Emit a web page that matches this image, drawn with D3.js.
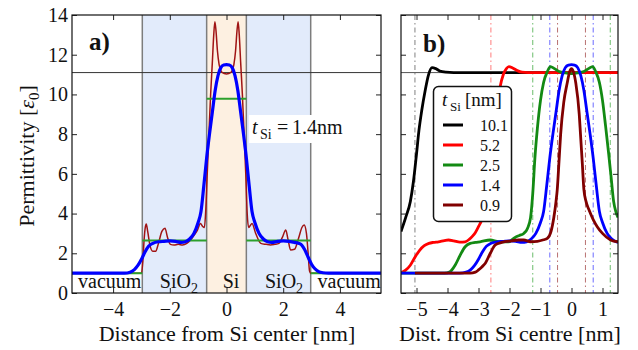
<!DOCTYPE html>
<html>
<head>
<meta charset="utf-8">
<script src="https://cdn.jsdelivr.net/npm/d3@7"></script>
<style>
body{margin:0;background:#fff}
svg{font-family:"Liberation Serif","Times New Roman",serif}
</style>
</head>
<body>
<svg id="chart" width="638" height="350"></svg>
<script>
// ---- panel a: t_Si = 1.4 nm ----
const regionEdges = [-2.97, -0.7, 0.7, 2.97]
const regionLabels = ["vacuum", "SiO", "Si", "SiO", "vacuum"]
const regionLabelX = [-4.12, -1.68, 0.16, 2.03, 4.33]
const stepEdges = [-5.5, -2.97, -0.7, 0.7, 2.97, 5.5]
const stepEps = [1.0, 2.65, 9.78, 2.65, 1.0]
const epsBulkSi = 11.1

const abX = [-5.5, -3.0, -2.95, -2.91, -2.87, -2.83, -2.78, -2.7, -2.6, -2.5, -2.4, -2.28, -2.17, -2.08, -1.98, -1.85, -1.7, -1.55, -1.4, -1.25, -1.12, -1.03, -0.92, -0.84, -0.78, -0.73, -0.68, -0.62, -0.56, -0.5, -0.45, -0.41, -0.37, -0.32, -0.26, -0.18, -0.08, 0,
  0.08, 0.18, 0.26, 0.32, 0.37, 0.41, 0.45, 0.5, 0.56, 0.62, 0.68, 0.73, 0.78, 0.84, 0.9, 1.03, 1.21, 1.4, 1.55, 1.7, 1.85, 1.97, 2.09, 2.17, 2.26, 2.4, 2.55, 2.66, 2.74, 2.82, 2.88, 2.93, 2.97, 5.5]
const abY = [1.0, 1.0, 1.6, 2.6, 3.25, 3.47, 3.1, 2.4, 2.1, 2.1, 2.5, 3.1, 3.26, 2.8, 2.45, 2.42, 2.45, 2.42, 2.5, 2.7, 2.95, 3.15, 3.5, 3.35, 3.3, 4.2, 6.0, 8.0, 10.0, 11.6, 13.0, 13.66, 13.2, 12.2, 11.5, 11.15, 11.05, 11.03,
  11.05, 11.15, 11.5, 12.2, 13.2, 13.66, 13.0, 11.6, 10.0, 8.0, 6.0, 4.0, 3.3, 3.4, 3.5, 3.0, 2.5, 2.45, 2.42, 2.45, 2.5, 2.8, 3.17, 2.7, 2.17, 2.2, 2.8, 3.3, 3.42, 3.0, 2.0, 1.1, 1.0, 1.0]

// smoothed model, t_Si = 1.4 nm (also used in panel b)
const blueX = [-5.5, -3.6, -3.4, -3.25, -3.12, -3.0, -2.88, -2.75, -2.6, -2.4, -2.2, -2.0, -1.8, -1.6, -1.45, -1.3, -1.15, -1.0, -0.9, -0.8, -0.7, -0.6, -0.5, -0.4, -0.3, -0.2, -0.1, 0,
  0.1, 0.2, 0.3, 0.4, 0.5, 0.6, 0.7, 0.8, 0.9, 1.0, 1.15, 1.3, 1.45, 1.6, 1.8, 2.0, 2.2, 2.4, 2.6, 2.75, 2.88, 3.0, 3.12, 3.25, 3.4, 3.6, 5.5]
const blueY = [1.0, 1.0, 1.05, 1.18, 1.4, 1.7, 2.05, 2.35, 2.5, 2.58, 2.6, 2.62, 2.6, 2.55, 2.58, 2.72, 3.0, 3.55, 4.1, 5.4, 6.8, 8.0, 9.1, 10.2, 10.95, 11.35, 11.48, 11.5,
  11.48, 11.35, 10.95, 10.2, 9.1, 8.0, 6.8, 5.4, 4.1, 3.55, 3.0, 2.72, 2.58, 2.55, 2.6, 2.62, 2.6, 2.55, 2.47, 2.2, 1.8, 1.45, 1.22, 1.08, 1.02, 1.0, 1.0]

// ---- panel b: several t_Si ----
const tSi = [10.1, 5.2, 2.5, 1.4, 0.9]
const tLabels = ["10.1", "5.2", "2.5", "1.4", "0.9"]
const t101X = [-5.5, -5.35, -5.2, -5.1, -5.0, -4.92, -4.83, -4.72, -4.61, -4.5, -4.38, -4.25, -4.05, -3.8, 1.5]
const t101Y = [3.1, 3.8, 4.6, 5.6, 7.0, 8.2, 9.2, 10.2, 11.0, 11.35, 11.3, 11.18, 11.12, 11.1, 11.1]
const t52X = [-5.5, -5.35, -5.2, -5.04, -4.9, -4.75, -4.6, -4.45, -4.29, -4.1, -3.97, -3.8, -3.6, -3.43, -3.3, -3.2, -3.1, -3.0, -2.89, -2.75, -2.6, -2.45, -2.3, -2.2, -2.1, -2.02, -1.9, -1.75, -1.6, -1.4, 1.5]
const t52Y = [1.02, 1.15, 1.4, 1.83, 2.15, 2.38, 2.5, 2.55, 2.58, 2.64, 2.67, 2.63, 2.56, 2.58, 2.7, 2.85, 3.05, 3.34, 3.7, 4.6, 6.2, 8.3, 10.4, 11.0, 11.3, 11.4, 11.33, 11.2, 11.12, 11.1, 11.1]
const t25X = [-5.5, -4.1, -3.92, -3.75, -3.59, -3.43, -3.27, -3.1, -2.95, -2.62, -2.35, -2.03, -1.82, -1.68, -1.54, -1.42, -1.32, -1.25, -1.18, -1.1, -1.0, -0.9, -0.78, -0.68, -0.55, -0.4, -0.2, 0, 0.2, 0.4, 0.55, 0.68, 0.78, 0.9, 1.0, 1.1, 1.2, 1.28, 1.36, 1.43, 1.5]
const t25Y = [1.0, 1.0, 1.07, 1.41, 1.91, 2.33, 2.5, 2.55, 2.58, 2.67, 2.58, 2.58, 2.8, 2.9, 3.0, 3.25, 3.8, 5.0, 6.8, 8.3, 9.7, 10.6, 11.15, 11.4, 11.3, 11.15, 11.08, 11.05, 11.08, 11.15, 11.3, 11.4, 11.15, 10.6, 9.7, 8.4, 7.0, 5.8, 4.6, 4.1, 3.8]
const t09X = [-5.05, -3.27, -3.1, -3.0, -2.9, -2.78, -2.62, -2.46, -2.25, -1.93, -1.71, -1.54, -1.32, -1.1, -0.9, -0.78, -0.66, -0.57, -0.5, -0.46, -0.4, -0.35, -0.25, -0.14, -0.06, 0, 0.06, 0.14, 0.25, 0.29, 0.35, 0.4, 0.47, 0.56, 0.7, 0.83, 1.0, 1.26, 1.5]
const t09Y = [1.0, 1.0, 1.05, 1.16, 1.3, 1.5, 2.0, 2.42, 2.55, 2.63, 2.67, 2.67, 2.58, 2.6, 2.68, 2.75, 3.1, 3.8, 4.6, 5.2, 6.7, 8.0, 9.6, 10.56, 11.15, 11.3, 11.15, 10.56, 9.0, 8.0, 6.5, 5.2, 4.6, 4.2, 3.7, 3.34, 3.0, 2.67, 2.58]

const xTicksA = [-4, -2, 0, 2, 4]
const xTicksB = [-5, -4, -3, -2, -1, 0, 1]
const yTicks = [0, 2, 4, 6, 8, 10, 12, 14]

const svg = d3.select("#chart")
const zip = (xs, ys) => xs.map((v, i) => [v, ys[i]])

const ya = d3.scaleLinear().domain([0, 14]).range([293, 15])
const xa = d3.scaleLinear().domain([-5.45, 5.45]).range([72, 381])
const xb = d3.scaleLinear().domain([-5.5, 1.5]).range([401, 618])

const defs = svg.append("defs")
defs.append("clipPath").attr("id", "clipA").append("rect").attr("x", 72).attr("y", 15).attr("width", 309).attr("height", 278)
defs.append("clipPath").attr("id", "clipB").append("rect").attr("x", 401).attr("y", 15).attr("width", 217).attr("height", 278)

// ---------- panel a ----------
const ga = svg.append("g").attr("clip-path", "url(#clipA)")
// shaded regions
ga.append("rect").attr("x", xa(regionEdges[0])).attr("y", 15).attr("width", xa(regionEdges[1]) - xa(regionEdges[0])).attr("height", 278).attr("fill", "#e2ebfb")
ga.append("rect").attr("x", xa(regionEdges[2])).attr("y", 15).attr("width", xa(regionEdges[3]) - xa(regionEdges[2])).attr("height", 278).attr("fill", "#e2ebfb")
ga.append("rect").attr("x", xa(regionEdges[1])).attr("y", 15).attr("width", xa(regionEdges[2]) - xa(regionEdges[1])).attr("height", 278).attr("fill", "#fdf0e1")
ga.selectAll(".edge").data(regionEdges).enter().append("line")
  .attr("x1", d => xa(d)).attr("x2", d => xa(d)).attr("y1", 15).attr("y2", 293)
  .attr("stroke", "#7d7d7d").attr("stroke-width", 1.5)
ga.append("line").attr("x1", 72).attr("x2", 381).attr("y1", ya(epsBulkSi)).attr("y2", ya(epsBulkSi))
  .attr("stroke", "#333").attr("stroke-width", 1)

const lineA = d3.line().x(d => xa(d[0])).y(d => ya(d[1])).curve(d3.curveMonotoneX)
ga.append("path").attr("d", lineA(zip(abX, abY))).attr("fill", "none").attr("stroke", "#a01414").attr("stroke-width", 1.5)
ga.selectAll(".step").data(stepEps).enter().append("line")
  .attr("x1", (d, i) => xa(stepEdges[i])).attr("x2", (d, i) => xa(stepEdges[i + 1]))
  .attr("y1", d => ya(d)).attr("y2", d => ya(d))
  .attr("stroke", "#2ca02c").attr("stroke-width", 2)
ga.append("path").attr("d", lineA(zip(blueX, blueY))).attr("fill", "none").attr("stroke", "#0000ff").attr("stroke-width", 3.2)

// region names
const rl = svg.append("g").attr("font-size", 20).attr("fill", "#111")
regionLabels.forEach((name, i) => {
  const t = rl.append("text").attr("x", xa(regionLabelX[i])).attr("y", 288).attr("text-anchor", "middle")
  t.append("tspan").text(name)
  if (name === "SiO") t.append("tspan").attr("font-size", 14).attr("dy", 5).text("2")
})

// t_Si label
svg.append("rect").attr("x", 249).attr("y", 115).attr("width", 97).attr("height", 28).attr("fill", "#fff")
const tl = svg.append("text").attr("y", 134).attr("font-size", 20).attr("fill", "#111")
tl.append("tspan").attr("x", 252).attr("font-style", "italic").text("t")
tl.append("tspan").attr("x", 260).attr("dy", 5).attr("font-size", 14).text("Si")
tl.append("tspan").attr("x", 277).attr("dy", -5).text("=")
tl.append("tspan").attr("x", 292).text("1.4nm")

svg.append("text").attr("x", 89).attr("y", 50).attr("font-size", 25).attr("font-weight", "bold").attr("fill", "#111").text("a)")

// ---------- panel b ----------
const gb = svg.append("g").attr("clip-path", "url(#clipB)")
const colorsB = ["#000000", "#ff0000", "#138a13", "#0000ff", "#800000"]
const dashColors = ["#555555", "#ff5050", "#3aa53a", "#3a3aff", "#a04040"]
tSi.forEach((t, i) => {
  [-t / 2, t / 2].forEach(v => {
    gb.append("line").attr("x1", xb(v)).attr("x2", xb(v)).attr("y1", 15).attr("y2", 293)
      .attr("stroke", dashColors[i]).attr("stroke-width", 1).attr("stroke-opacity", 0.75)
      .attr("stroke-dasharray", "5,3,1.5,3")
  })
})
gb.append("line").attr("x1", 401).attr("x2", 618).attr("y1", ya(epsBulkSi)).attr("y2", ya(epsBulkSi))
  .attr("stroke", "#555").attr("stroke-width", 1)

const lineB = d3.line().x(d => xb(d[0])).y(d => ya(d[1])).curve(d3.curveMonotoneX)
const seriesB = [zip(t101X, t101Y), zip(t52X, t52Y), zip(t25X, t25Y), zip(blueX, blueY), zip(t09X, t09Y)]
gb.selectAll(".curve").data(seriesB).enter().append("path")
  .attr("d", d => lineB(d)).attr("fill", "none")
  .attr("stroke", (d, i) => colorsB[i]).attr("stroke-width", 2.8)

svg.append("text").attr("x", 423).attr("y", 52).attr("font-size", 25).attr("font-weight", "bold").attr("fill", "#111").text("b)")

// legend
const lg = svg.append("g")
lg.append("rect").attr("x", 433.5).attr("y", 86.5).attr("width", 78).attr("height", 135).attr("rx", 5)
  .attr("fill", "#fff").attr("stroke", "#111").attr("stroke-width", 1.5)
const lt = lg.append("text").attr("y", 106).attr("font-size", 19).attr("fill", "#111")
lt.append("tspan").attr("x", 442).attr("font-style", "italic").text("t")
lt.append("tspan").attr("x", 450).attr("dy", 5).attr("font-size", 13).text("Si")
lt.append("tspan").attr("x", 465).attr("dy", -5).text("[nm]")
tLabels.forEach((lab, i) => {
  const cy = 125 + i * 20
  lg.append("line").attr("x1", 443).attr("x2", 463).attr("y1", cy).attr("y2", cy)
    .attr("stroke", colorsB[i]).attr("stroke-width", 3)
  lg.append("text").attr("x", 480).attr("y", cy + 6).attr("font-size", 16).attr("fill", "#111").text(lab)
})

// ---------- axes ----------
function drawAxes(x, left, right, xTicks, yLabels) {
  const bottom = svg.append("g").attr("transform", "translate(0,293)")
    .call(d3.axisBottom(x).tickValues(xTicks).tickSize(-5).tickPadding(9).tickFormat(d3.format("d")))
  bottom.attr("font-family", null).attr("font-size", 20)
  bottom.selectAll("text").attr("fill", "#111")
  svg.append("g").attr("transform", "translate(0,15)")
    .call(d3.axisTop(x).tickValues(xTicks).tickSize(-5).tickFormat(""))
  const l = svg.append("g").attr("transform", `translate(${left},0)`)
    .call(d3.axisLeft(ya).tickValues(yTicks).tickSize(-5).tickPadding(4).tickFormat(yLabels ? d3.format("d") : ""))
  l.attr("font-family", null).attr("font-size", 20)
  l.selectAll("text").attr("fill", "#111")
  svg.append("g").attr("transform", `translate(${right},0)`)
    .call(d3.axisRight(ya).tickValues(yTicks).tickSize(-5).tickFormat(""))
  svg.selectAll(".domain").remove()
  svg.selectAll(".tick line").attr("stroke", "#222")
  svg.append("rect").attr("x", left).attr("y", 15).attr("width", right - left).attr("height", 278)
    .attr("fill", "none").attr("stroke", "#111").attr("stroke-width", 1.2)
}
drawAxes(xa, 72, 381, xTicksA, true)
drawAxes(xb, 401, 618, xTicksB, false)

svg.append("text").attr("x", 227).attr("y", 341).attr("text-anchor", "middle").attr("font-size", 22).attr("fill", "#111")
  .text("Distance from Si center [nm]")
svg.append("text").attr("x", 510).attr("y", 341).attr("text-anchor", "middle").attr("font-size", 22).attr("fill", "#111")
  .text("Dist. from Si centre [nm]")
const yl = svg.append("text").attr("transform", "translate(34,156) rotate(-90)").attr("text-anchor", "middle")
  .attr("font-size", 22).attr("fill", "#111")
yl.append("tspan").text("Permittivity [")
yl.append("tspan").attr("font-style", "italic").text("ε")
yl.append("tspan").attr("font-size", 15).attr("dy", 5).text("0")
yl.append("tspan").attr("dy", -5).text("]")
</script>
</body>
</html>
